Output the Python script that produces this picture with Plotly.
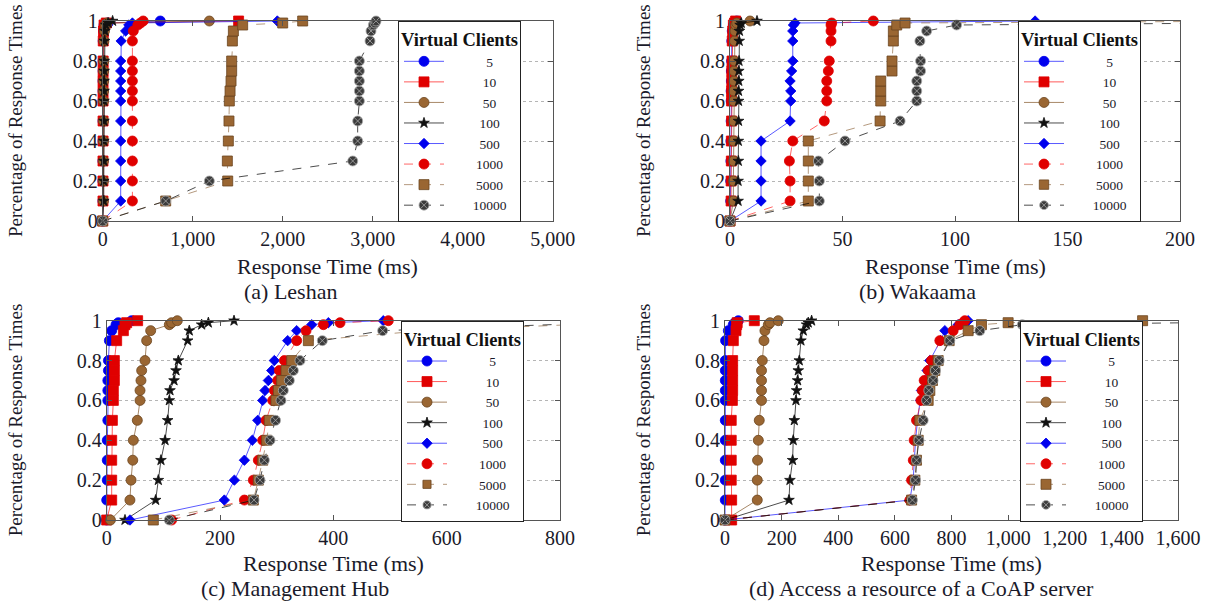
import plotly.graph_objects as go

# Percentile levels (y values shared by every series)
PCT = [0, 0.1, 0.2, 0.3, 0.4, 0.5, 0.6, 0.65, 0.7, 0.75, 0.8, 0.9, 0.95, 0.98, 0.99, 1.0]
CLIENTS = ["5", "10", "50", "100", "500", "1000", "5000", "10000"]

# (a) Leshan - response times (ms)
a_5 = [0, 2, 2, 2, 3, 3, 3, 3, 3, 4, 4, 5, 8, 15, 60, 640]
a_10 = [0, 3, 3, 3, 4, 4, 4, 4, 4, 5, 5, 6, 9, 15, 40, 1510]
a_50 = [0, 8, 8, 9, 9, 10, 10, 10, 11, 11, 12, 14, 20, 30, 50, 1185]
a_100 = [0, 12, 12, 13, 13, 14, 14, 15, 15, 16, 17, 20, 25, 35, 60, 110]
a_500 = [0, 200, 200, 200, 200, 200, 200, 200, 200, 200, 200, 205, 255, 290, 330, 1940]
a_1000 = [0, 330, 330, 330, 330, 330, 330, 330, 330, 330, 330, 330, 340, 390, 420, 450]
a_5000 = [0, 700, 1389, 1385, 1396, 1403, 1407, 1415, 1426, 1433, 1433, 1441, 1452, 1555, 2000, 2222]
a_10000 = [0, 700, 1185, 2778, 2833, 2833, 2852, 2852, 2852, 2852, 2852, 2970, 2981, 3007, 3026, 3037]

# (b) Wakaama
b_5 = [0, 0.3, 0.3, 0.4, 0.4, 0.5, 0.5, 0.5, 0.6, 0.6, 0.7, 0.8, 1.0, 1.5, 2, 3]
b_10 = [0, 0.5, 0.5, 0.6, 0.6, 0.7, 0.7, 0.7, 0.8, 0.8, 0.9, 1.0, 1.2, 1.5, 2, 2.5]
b_50 = [0, 1.5, 1.5, 1.6, 1.6, 1.7, 1.7, 1.7, 1.8, 1.8, 1.9, 2.0, 2.2, 2.5, 3, 8.9]
b_100 = [0, 3.6, 3.6, 3.7, 3.7, 3.8, 3.8, 3.8, 3.9, 3.9, 4.0, 4.1, 4.2, 4.5, 5, 12]
b_500 = [0, 13.8, 13.8, 13.8, 13.8, 26.7, 27, 27, 26.7, 27.4, 27.9, 27.9, 27.9, 28.2, 28.9, 135.6]
b_1000 = [0, 26.7, 26.7, 26.4, 27.9, 41.9, 43, 43, 43, 43.7, 44.1, 44.9, 44.9, 44.9, 45.2, 63.7]
b_5000 = [0, 34.8, 34.8, 34.8, 34.8, 66.7, 67, 67, 67, 72, 72, 72.6, 72.6, 74.1, 77.8, 250]
b_10000 = [0, 39.7, 39.7, 39.3, 51.1, 75.6, 83, 83, 83, 84.7, 84.7, 84.4, 87.4, 100.7, 230, 300]

# (c) Management Hub
c_5 = [0, 0, 1, 1, 1, 2, 2, 2, 2, 3, 3, 4.7, 8.8, 16.4, 20.6, 44]
c_10 = [0, 8.8, 8.8, 8.8, 8.8, 10, 11.7, 11.7, 13.5, 13.5, 13.5, 17.6, 29.4, 32.3, 35.3, 54.6]
c_50 = [6.6, 41, 43, 46, 47, 54, 58.8, 58.8, 60.5, 61.7, 67.6, 70.5, 77.6, 110.5, 114.6, 124.6]
c_100 = [32.3, 86.4, 91.1, 95.8, 103, 107.6, 110.5, 111.7, 118.8, 122.3, 126.4, 142.9, 145.8, 167.6, 179.4, 224.7]
c_500 = [41.1, 207.6, 225.3, 243, 257, 266.5, 275.3, 279.4, 285.3, 291.2, 295.9, 319.4, 335.3, 361.8, 391.2, 488.2]
c_1000 = [114.6, 243, 258.8, 267.6, 275.3, 281.2, 293, 295.9, 301.8, 304.7, 313.5, 335.3, 351.8, 382.4, 411.8, 497]
c_5000 = [82.3, 258.8, 267.6, 275.3, 282.4, 287, 298.8, 303, 308.8, 316.5, 326.5, 355.9, 560, 820, 880, 950]
c_10000 = [110.5, 260, 270.5, 278.2, 288.2, 298, 307.6, 311.7, 322.3, 329.4, 341.1, 380.5, 487, 830, 900, 980]

# (d) Access a resource of a CoAP server
d_5 = [0, 1, 1, 1, 1, 1, 1, 1, 1, 1, 1, 2, 11.8, 29, 35, 47]
d_10 = [23.5, 23.5, 22, 22, 22, 22, 26, 27, 27, 27, 27, 29.4, 38.8, 41, 43, 103.5]
d_50 = [0, 114, 114, 115, 117.6, 121, 129, 129, 129, 129, 131.7, 137.6, 141, 153, 159, 188]
d_100 = [0, 225.9, 229.4, 238.8, 241, 244.7, 250.6, 253, 256.5, 258.8, 262.4, 268.2, 276.5, 288.2, 294, 305.9]
d_500 = [0, 652.9, 664.7, 668.2, 673, 680, 690.6, 694, 705.9, 714, 723.5, 761, 776.5, 823.5, 841.2, 858.8]
d_1000 = [0, 653, 659, 665, 668, 676.5, 692, 696.5, 703.5, 717.6, 729.4, 758.8, 805.9, 829.4, 841, 847]
d_5000 = [0, 659, 670.6, 676.5, 682.4, 688.2, 717.6, 723.5, 732.9, 741, 752.9, 791.8, 858.8, 905.9, 1000, 1475]
d_10000 = [0, 662, 673, 676.5, 685, 700, 712, 720, 735, 743.5, 756.5, 794, 900, 1050, 1650, 1800]

PANELS = [
    ("(a) Leshan", [a_5, a_10, a_50, a_100, a_500, a_1000, a_5000, a_10000], 5000, 1000),
    ("(b) Wakaama", [b_5, b_10, b_50, b_100, b_500, b_1000, b_5000, b_10000], 200, 50),
    ("(c) Management Hub", [c_5, c_10, c_50, c_100, c_500, c_1000, c_5000, c_10000], 800, 200),
    ("(d) Access a resource of a CoAP server", [d_5, d_10, d_50, d_100, d_500, d_1000, d_5000, d_10000], 1600, 200),
]

W, H = 1207, 602
FONT = "Liberation Serif, Times New Roman, serif"
TXT = "#1a1a2a"

BLUE, RED, BROWN, BLACK = "#0000ee", "#e00000", "#9a6632", "#111111"
STYLES = [
    dict(color=BLUE, line="rgba(0,0,255,0.65)", symbol="circle", size=10, dash="solid", mline=BLUE),
    dict(color=RED, line="rgba(255,0,0,0.65)", symbol="square", size=10, dash="solid", mline=RED),
    dict(color=BROWN, line="rgba(130,85,40,0.7)", symbol="circle", size=10, dash="solid", mline="#6b4520"),
    dict(color=BLACK, line="rgba(0,0,0,0.7)", symbol="star", size=8, dash="solid", mline=BLACK),
    dict(color=BLUE, line="rgba(0,0,255,0.65)", symbol="diamond", size=8, dash="solid", mline=BLUE),
    dict(color=RED, line="rgba(255,0,0,0.6)", symbol="circle", size=10, dash="dash", mline=RED),
    dict(color=BROWN, line="rgba(130,85,40,0.6)", symbol="square", size=10, dash="dash", mline="#6b4520"),
    dict(color="#3c3c3c", line="rgba(0,0,0,0.7)", symbol="circle-x", size=10, dash="dash", mline="#aaaaaa"),
]

# pixel boxes of the four plot areas: (left, right, top, bottom)
BOXES = [(102.7, 552.7, 21, 221), (730, 1180, 21, 221),
         (106.7, 560, 320.7, 520), (725, 1178, 320.7, 520)]
LEGEND_POS = [(398, 21), (1018, 21), (401, 320.7), (1020, 320.7)]
YTITLE_X = [15, 643, 15, 643]
CAPTION_X = [290, 917, 295, 921]
XTITLE_Y = [266, 266, 563, 563]
CAPTION_Y = [291, 291, 588, 588]

fig = go.Figure()
layout = dict(width=W, height=H, margin=dict(l=0, r=0, t=0, b=0),
              paper_bgcolor="white", plot_bgcolor="white",
              font=dict(family=FONT, size=20, color=TXT), showlegend=True)
annotations = []

for i, (caption, series, xmax, dtick) in enumerate(PANELS):
    n = "" if i == 0 else str(i + 1)
    l, r, t, b = BOXES[i]
    ax = dict(domain=[l / W, r / W], range=[0, xmax], dtick=dtick, tick0=0,
              tickformat=",d", showgrid=False, zeroline=False, showline=True,
              linecolor="#555", linewidth=1, mirror="ticks", ticks="inside",
              ticklen=5, tickcolor="#555", anchor="y" + n, automargin=False,
              tickfont=dict(family=FONT, size=20, color=TXT))
    ay = dict(domain=[1 - b / H, 1 - t / H], range=[0, 1], dtick=0.2, tick0=0,
              showgrid=True, gridcolor="#b5b5b5", griddash="dot", gridwidth=1,
              zeroline=False, showline=True, linecolor="#555", linewidth=1,
              mirror="ticks", ticks="inside", ticklen=5, tickcolor="#555",
              anchor="x" + n, automargin=False,
              tickfont=dict(family=FONT, size=20, color=TXT))
    layout["xaxis" + n] = ax
    layout["yaxis" + n] = ay
    lx, ly = LEGEND_POS[i]
    layout["legend" + n] = dict(
        x=lx / W, y=1 - ly / H, xanchor="left", yanchor="top",
        bgcolor="white", bordercolor="#222", borderwidth=1,
        font=dict(family=FONT, size=13.5, color=TXT),
        title=dict(text="<b>Virtual Clients</b>", font=dict(family=FONT, size=18.5, color="#111"),
                   side="top center"),
        itemwidth=40)
    for k, xs in enumerate(series):
        st = STYLES[k]
        sizes = [st["size"] if x <= xmax else 0 for x in xs]
        label = "\u00a0" * (12 - len(CLIENTS[k])) + CLIENTS[k]
        fig.add_trace(go.Scatter(
            x=xs, y=PCT, mode="lines+markers", name=label,
            xaxis="x" + n, yaxis="y" + n, legend="legend" + n,
            cliponaxis=False,
            line=dict(color=st["line"], width=1, dash=st["dash"]),
            marker=dict(symbol=st["symbol"], size=sizes, color=st["color"], opacity=1,
                        line=dict(color=st["mline"], width=0.8))))
    cx = (l + r) / 2
    annotations.append(dict(text="Response Time (ms)", x=cx / W, y=1 - XTITLE_Y[i] / H,
                            xref="paper", yref="paper", showarrow=False,
                            xanchor="center", yanchor="middle",
                            font=dict(family=FONT, size=22, color=TXT)))
    annotations.append(dict(text=caption, x=CAPTION_X[i] / W, y=1 - CAPTION_Y[i] / H,
                            xref="paper", yref="paper", showarrow=False,
                            xanchor="center", yanchor="middle",
                            font=dict(family=FONT, size=22, color=TXT)))
    annotations.append(dict(text="Percentage of Response Times", x=YTITLE_X[i] / W,
                            y=1 - (t + b) / 2 / H, xref="paper", yref="paper",
                            showarrow=False, textangle=-90, xanchor="center",
                            yanchor="middle", font=dict(family=FONT, size=19, color=TXT)))

layout["annotations"] = annotations
fig.update_layout(**layout)
fig.write_html("out.html", config={"displayModeBar": False},
               post_script="document.body.style.margin='0';document.body.style.overflow='hidden';")
